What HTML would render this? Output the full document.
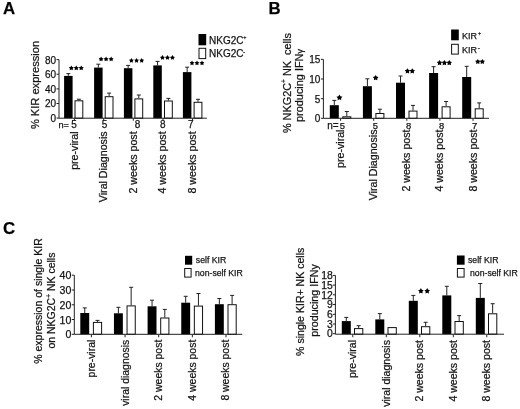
<!DOCTYPE html>
<html><head><meta charset="utf-8"><style>
html,body{margin:0;padding:0;background:#fff;}
body{width:520px;height:409px;overflow:hidden;}
svg{display:block;font-family:"Liberation Sans", sans-serif;filter:grayscale(1) blur(0.3px);}
text{stroke:#1a1a1a;stroke-width:0.25px;}
</style></head><body>
<svg width="520" height="409" viewBox="0 0 520 409">
<rect width="520" height="409" fill="#fff"/>
<text x="3" y="14.4" font-size="16.8" text-anchor="start" font-weight="bold" fill="#000">A</text>
<line x1="68.35" y1="73.6" x2="68.35" y2="75.9" stroke="#222" stroke-width="1"/>
<line x1="66.35" y1="73.6" x2="70.35" y2="73.6" stroke="#222" stroke-width="1"/>
<rect x="64.1" y="75.9" width="8.5" height="42.3" fill="#000"/>
<line x1="98.35" y1="64.2" x2="98.35" y2="67.6" stroke="#222" stroke-width="1"/>
<line x1="96.35" y1="64.2" x2="100.35" y2="64.2" stroke="#222" stroke-width="1"/>
<rect x="94.1" y="67.6" width="8.5" height="50.60000000000001" fill="#000"/>
<line x1="128.15" y1="65.4" x2="128.15" y2="68.2" stroke="#222" stroke-width="1"/>
<line x1="126.15" y1="65.4" x2="130.15" y2="65.4" stroke="#222" stroke-width="1"/>
<rect x="123.9" y="68.2" width="8.5" height="50.0" fill="#000"/>
<line x1="157.55" y1="61.4" x2="157.55" y2="65.4" stroke="#222" stroke-width="1"/>
<line x1="155.55" y1="61.4" x2="159.55" y2="61.4" stroke="#222" stroke-width="1"/>
<rect x="153.3" y="65.4" width="8.5" height="52.8" fill="#000"/>
<line x1="187.15" y1="67.2" x2="187.15" y2="72.1" stroke="#222" stroke-width="1"/>
<line x1="185.15" y1="67.2" x2="189.15" y2="67.2" stroke="#222" stroke-width="1"/>
<rect x="182.9" y="72.1" width="8.5" height="46.10000000000001" fill="#000"/>
<line x1="78.9" y1="99.2" x2="78.9" y2="100.3" stroke="#222" stroke-width="1"/>
<line x1="76.9" y1="99.2" x2="80.9" y2="99.2" stroke="#222" stroke-width="1"/>
<rect x="75.0" y="100.8" width="7.800000000000001" height="17.400000000000006" fill="#fff" stroke="#111" stroke-width="1"/>
<line x1="109.10000000000001" y1="93.1" x2="109.10000000000001" y2="96.2" stroke="#222" stroke-width="1"/>
<line x1="107.10000000000001" y1="93.1" x2="111.10000000000001" y2="93.1" stroke="#222" stroke-width="1"/>
<rect x="105.2" y="96.7" width="7.800000000000001" height="21.5" fill="#fff" stroke="#111" stroke-width="1"/>
<line x1="138.8" y1="95.0" x2="138.8" y2="98.4" stroke="#222" stroke-width="1"/>
<line x1="136.8" y1="95.0" x2="140.8" y2="95.0" stroke="#222" stroke-width="1"/>
<rect x="134.9" y="98.9" width="7.800000000000001" height="19.299999999999997" fill="#fff" stroke="#111" stroke-width="1"/>
<line x1="168.4" y1="98.4" x2="168.4" y2="100.5" stroke="#222" stroke-width="1"/>
<line x1="166.4" y1="98.4" x2="170.4" y2="98.4" stroke="#222" stroke-width="1"/>
<rect x="164.5" y="101.0" width="7.800000000000001" height="17.200000000000003" fill="#fff" stroke="#111" stroke-width="1"/>
<line x1="198.0" y1="99.3" x2="198.0" y2="101.8" stroke="#222" stroke-width="1"/>
<line x1="196.0" y1="99.3" x2="200.0" y2="99.3" stroke="#222" stroke-width="1"/>
<rect x="194.1" y="102.3" width="7.800000000000001" height="15.900000000000006" fill="#fff" stroke="#111" stroke-width="1"/>
<line x1="59" y1="118.2" x2="206.8" y2="118.2" stroke="#222" stroke-width="1"/>
<line x1="59" y1="59.6" x2="59" y2="118.2" stroke="#222" stroke-width="1"/>
<line x1="56.5" y1="59.6" x2="59" y2="59.6" stroke="#222" stroke-width="1"/>
<text x="56.0" y="63.5" font-size="10" text-anchor="end" fill="#111">80</text>
<line x1="56.5" y1="74.2" x2="59" y2="74.2" stroke="#222" stroke-width="1"/>
<text x="56.0" y="78.1" font-size="10" text-anchor="end" fill="#111">60</text>
<line x1="56.5" y1="88.9" x2="59" y2="88.9" stroke="#222" stroke-width="1"/>
<text x="56.0" y="92.8" font-size="10" text-anchor="end" fill="#111">40</text>
<line x1="56.5" y1="103.5" x2="59" y2="103.5" stroke="#222" stroke-width="1"/>
<text x="56.0" y="107.39999999999999" font-size="10" text-anchor="end" fill="#111">20</text>
<line x1="56.5" y1="118.1" x2="59" y2="118.1" stroke="#222" stroke-width="1"/>
<text x="56.0" y="121.99999999999999" font-size="10" text-anchor="end" fill="#111">0</text>
<line x1="74.4" y1="118.2" x2="74.4" y2="120.7" stroke="#222" stroke-width="1"/>
<line x1="103.7" y1="118.2" x2="103.7" y2="120.7" stroke="#222" stroke-width="1"/>
<line x1="133.3" y1="118.2" x2="133.3" y2="120.7" stroke="#222" stroke-width="1"/>
<line x1="163.0" y1="118.2" x2="163.0" y2="120.7" stroke="#222" stroke-width="1"/>
<line x1="192.6" y1="118.2" x2="192.6" y2="120.7" stroke="#222" stroke-width="1"/>
<polygon points="71.32,65.40 72.20,66.90 73.90,67.27 72.74,68.57 72.91,70.29 71.32,69.59 69.73,70.29 69.91,68.57 68.75,67.27 70.45,66.90" fill="#000"/>
<polygon points="76.27,65.40 77.15,66.90 78.85,67.27 77.69,68.57 77.87,70.29 76.27,69.59 74.68,70.29 74.86,68.57 73.70,67.27 75.40,66.90" fill="#000"/>
<polygon points="81.23,65.40 82.10,66.90 83.80,67.27 82.64,68.57 82.82,70.29 81.23,69.59 79.64,70.29 79.81,68.57 78.65,67.27 80.35,66.90" fill="#000"/>
<polygon points="101.06,56.60 101.90,58.04 103.52,58.39 102.42,59.63 102.58,61.28 101.06,60.61 99.54,61.28 99.71,59.63 98.60,58.39 100.22,58.04" fill="#000"/>
<polygon points="106.10,56.60 106.94,58.04 108.56,58.39 107.45,59.63 107.62,61.28 106.10,60.61 104.58,61.28 104.75,59.63 103.64,58.39 105.26,58.04" fill="#000"/>
<polygon points="111.14,56.60 111.98,58.04 113.60,58.39 112.49,59.63 112.66,61.28 111.14,60.61 109.62,61.28 109.78,59.63 108.68,58.39 110.30,58.04" fill="#000"/>
<polygon points="131.41,58.10 132.22,59.50 133.81,59.85 132.73,61.06 132.89,62.68 131.41,62.02 129.92,62.68 130.08,61.06 129.00,59.85 130.59,59.50" fill="#000"/>
<polygon points="136.55,58.10 137.37,59.50 138.96,59.85 137.87,61.06 138.04,62.68 136.55,62.02 135.06,62.68 135.23,61.06 134.14,59.85 135.73,59.50" fill="#000"/>
<polygon points="141.69,58.10 142.51,59.50 144.10,59.85 143.02,61.06 143.18,62.68 141.69,62.02 140.21,62.68 140.37,61.06 139.29,59.85 140.88,59.50" fill="#000"/>
<polygon points="162.46,55.10 163.30,56.54 164.92,56.89 163.82,58.13 163.98,59.78 162.46,59.11 160.94,59.78 161.11,58.13 160.00,56.89 161.62,56.54" fill="#000"/>
<polygon points="167.45,55.10 168.29,56.54 169.91,56.89 168.80,58.13 168.97,59.78 167.45,59.11 165.93,59.78 166.10,58.13 164.99,56.89 166.61,56.54" fill="#000"/>
<polygon points="172.44,55.10 173.28,56.54 174.90,56.89 173.79,58.13 173.96,59.78 172.44,59.11 170.92,59.78 171.08,58.13 169.98,56.89 171.60,56.54" fill="#000"/>
<polygon points="192.01,60.60 192.82,62.00 194.41,62.35 193.33,63.56 193.49,65.18 192.01,64.52 190.52,65.18 190.68,63.56 189.60,62.35 191.19,62.00" fill="#000"/>
<polygon points="197.00,60.60 197.82,62.00 199.41,62.35 198.32,63.56 198.49,65.18 197.00,64.52 195.51,65.18 195.68,63.56 194.59,62.35 196.18,62.00" fill="#000"/>
<polygon points="201.99,60.60 202.81,62.00 204.40,62.35 203.32,63.56 203.48,65.18 201.99,64.52 200.51,65.18 200.67,63.56 199.59,62.35 201.18,62.00" fill="#000"/>
<text x="58.5" y="127.8" font-size="9.2" text-anchor="start" fill="#111">n=</text>
<text x="74.1" y="127.8" font-size="10" text-anchor="middle" fill="#111">5</text>
<text x="104.6" y="127.8" font-size="10" text-anchor="middle" fill="#111">5</text>
<text x="137.5" y="127.8" font-size="10" text-anchor="middle" fill="#111">8</text>
<text x="162.9" y="127.8" font-size="10" text-anchor="middle" fill="#111">8</text>
<text x="190.9" y="127.8" font-size="10" text-anchor="middle" fill="#111">7</text>
<text x="77.7" y="131.4" font-size="10.65" text-anchor="end" fill="#111" transform="rotate(-90 77.7 131.4)">pre-viral</text>
<text x="107.0" y="131.4" font-size="10.65" text-anchor="end" fill="#111" transform="rotate(-90 107.0 131.4)">Viral Diagnosis</text>
<text x="136.60000000000002" y="131.4" font-size="10.65" text-anchor="end" fill="#111" transform="rotate(-90 136.60000000000002 131.4)">2 weeks post</text>
<text x="166.3" y="131.4" font-size="10.65" text-anchor="end" fill="#111" transform="rotate(-90 166.3 131.4)">4 weeks post</text>
<text x="195.9" y="131.4" font-size="10.65" text-anchor="end" fill="#111" transform="rotate(-90 195.9 131.4)">8 weeks post</text>
<text x="38.7" y="85.0" font-size="11.1" text-anchor="middle" fill="#111" transform="rotate(-90 38.7 85.0)">% KIR expression</text>
<rect x="198.5" y="34" width="7.7" height="11.3" fill="#000"/>
<rect x="199" y="48.3" width="6.7" height="10.3" fill="#fff" stroke="#111" stroke-width="1"/>
<text x="209.0" y="43.5" font-size="10" text-anchor="start" fill="#111">NKG2C<tspan font-size="5.5" dx="-0.1" dy="-4.6">+</tspan></text>
<text x="209.0" y="57.3" font-size="10" text-anchor="start" fill="#111">NKG2C<tspan font-size="6.5" dx="-0.5" dy="-3.3">-</tspan></text>
<text x="268.5" y="14.4" font-size="16.8" text-anchor="start" font-weight="bold" fill="#000">B</text>
<line x1="334.3" y1="100.4" x2="334.3" y2="105.2" stroke="#222" stroke-width="1"/>
<line x1="332.3" y1="100.4" x2="336.3" y2="100.4" stroke="#222" stroke-width="1"/>
<rect x="329.8" y="105.2" width="9" height="13.099999999999994" fill="#000"/>
<line x1="367.40000000000003" y1="78.8" x2="367.40000000000003" y2="86.2" stroke="#222" stroke-width="1"/>
<line x1="365.40000000000003" y1="78.8" x2="369.40000000000003" y2="78.8" stroke="#222" stroke-width="1"/>
<rect x="362.90000000000003" y="86.2" width="9" height="32.099999999999994" fill="#000"/>
<line x1="400.5" y1="76.0" x2="400.5" y2="82.7" stroke="#222" stroke-width="1"/>
<line x1="398.5" y1="76.0" x2="402.5" y2="76.0" stroke="#222" stroke-width="1"/>
<rect x="396.0" y="82.7" width="9" height="35.599999999999994" fill="#000"/>
<line x1="433.6" y1="66.7" x2="433.6" y2="73.0" stroke="#222" stroke-width="1"/>
<line x1="431.6" y1="66.7" x2="435.6" y2="66.7" stroke="#222" stroke-width="1"/>
<rect x="429.1" y="73.0" width="9" height="45.3" fill="#000"/>
<line x1="466.70000000000005" y1="66.3" x2="466.70000000000005" y2="77.0" stroke="#222" stroke-width="1"/>
<line x1="464.70000000000005" y1="66.3" x2="468.70000000000005" y2="66.3" stroke="#222" stroke-width="1"/>
<rect x="462.20000000000005" y="77.0" width="9" height="41.3" fill="#000"/>
<line x1="346.8" y1="111.5" x2="346.8" y2="116.3" stroke="#222" stroke-width="1"/>
<line x1="344.8" y1="111.5" x2="348.8" y2="111.5" stroke="#222" stroke-width="1"/>
<rect x="342.8" y="116.8" width="8" height="1.5" fill="#fff" stroke="#111" stroke-width="1"/>
<line x1="379.90000000000003" y1="109.2" x2="379.90000000000003" y2="113.0" stroke="#222" stroke-width="1"/>
<line x1="377.90000000000003" y1="109.2" x2="381.90000000000003" y2="109.2" stroke="#222" stroke-width="1"/>
<rect x="375.90000000000003" y="113.5" width="8" height="4.799999999999997" fill="#fff" stroke="#111" stroke-width="1"/>
<line x1="413.0" y1="105.4" x2="413.0" y2="110.6" stroke="#222" stroke-width="1"/>
<line x1="411.0" y1="105.4" x2="415.0" y2="105.4" stroke="#222" stroke-width="1"/>
<rect x="409.0" y="111.1" width="8" height="7.200000000000003" fill="#fff" stroke="#111" stroke-width="1"/>
<line x1="446.1" y1="101.5" x2="446.1" y2="106.3" stroke="#222" stroke-width="1"/>
<line x1="444.1" y1="101.5" x2="448.1" y2="101.5" stroke="#222" stroke-width="1"/>
<rect x="442.1" y="106.8" width="8" height="11.5" fill="#fff" stroke="#111" stroke-width="1"/>
<line x1="479.20000000000005" y1="102.9" x2="479.20000000000005" y2="108.3" stroke="#222" stroke-width="1"/>
<line x1="477.20000000000005" y1="102.9" x2="481.20000000000005" y2="102.9" stroke="#222" stroke-width="1"/>
<rect x="475.20000000000005" y="108.8" width="8" height="9.5" fill="#fff" stroke="#111" stroke-width="1"/>
<line x1="323.4" y1="118.3" x2="489" y2="118.3" stroke="#222" stroke-width="1"/>
<line x1="323.4" y1="59.4" x2="323.4" y2="118.3" stroke="#222" stroke-width="1"/>
<line x1="320.9" y1="59.4" x2="323.4" y2="59.4" stroke="#222" stroke-width="1"/>
<text x="320.4" y="63.4" font-size="10" text-anchor="end" fill="#111">15</text>
<line x1="320.9" y1="79.0" x2="323.4" y2="79.0" stroke="#222" stroke-width="1"/>
<text x="320.4" y="83.0" font-size="10" text-anchor="end" fill="#111">10</text>
<line x1="320.9" y1="98.7" x2="323.4" y2="98.7" stroke="#222" stroke-width="1"/>
<text x="320.4" y="102.7" font-size="10" text-anchor="end" fill="#111">5</text>
<line x1="320.9" y1="118.3" x2="323.4" y2="118.3" stroke="#222" stroke-width="1"/>
<text x="320.4" y="122.3" font-size="10" text-anchor="end" fill="#111">0</text>
<line x1="340.6" y1="118.3" x2="340.6" y2="120.8" stroke="#222" stroke-width="1"/>
<line x1="373.70000000000005" y1="118.3" x2="373.70000000000005" y2="120.8" stroke="#222" stroke-width="1"/>
<line x1="406.8" y1="118.3" x2="406.8" y2="120.8" stroke="#222" stroke-width="1"/>
<line x1="439.90000000000003" y1="118.3" x2="439.90000000000003" y2="120.8" stroke="#222" stroke-width="1"/>
<line x1="473.0" y1="118.3" x2="473.0" y2="120.8" stroke="#222" stroke-width="1"/>
<polygon points="339.45,94.50 340.46,96.23 342.42,96.65 341.08,98.15 341.28,100.14 339.45,99.33 337.62,100.14 337.82,98.15 336.48,96.65 338.44,96.23" fill="#000"/>
<polygon points="375.65,74.90 376.62,76.57 378.50,76.97 377.22,78.41 377.41,80.33 375.65,79.55 373.89,80.33 374.08,78.41 372.80,76.97 374.68,76.57" fill="#000"/>
<polygon points="407.44,68.20 408.37,69.80 410.18,70.19 408.95,71.57 409.14,73.41 407.44,72.67 405.75,73.41 405.93,71.57 404.70,70.19 406.51,69.80" fill="#000"/>
<polygon points="412.26,68.20 413.19,69.80 415.00,70.19 413.77,71.57 413.95,73.41 412.26,72.67 410.56,73.41 410.75,71.57 409.52,70.19 411.33,69.80" fill="#000"/>
<polygon points="439.54,60.00 440.47,61.60 442.28,61.99 441.05,63.37 441.24,65.21 439.54,64.47 437.85,65.21 438.03,63.37 436.80,61.99 438.61,61.60" fill="#000"/>
<polygon points="444.40,60.00 445.33,61.60 447.14,61.99 445.91,63.37 446.09,65.21 444.40,64.47 442.71,65.21 442.89,63.37 441.66,61.99 443.47,61.60" fill="#000"/>
<polygon points="449.26,60.00 450.19,61.60 452.00,61.99 450.77,63.37 450.95,65.21 449.26,64.47 447.56,65.21 447.75,63.37 446.52,61.99 448.33,61.60" fill="#000"/>
<polygon points="477.79,58.90 478.70,60.47 480.47,60.85 479.26,62.20 479.44,64.01 477.79,63.28 476.13,64.01 476.31,62.20 475.10,60.85 476.87,60.47" fill="#000"/>
<polygon points="482.31,58.90 483.23,60.47 485.00,60.85 483.79,62.20 483.97,64.01 482.31,63.28 480.66,64.01 480.84,62.20 479.63,60.85 481.40,60.47" fill="#000"/>
<text x="327.2" y="129.1" font-size="10" text-anchor="start" fill="#111">n=</text>
<text x="344.1" y="129.5" font-size="10.65" text-anchor="end" fill="#111" transform="rotate(-90 344.1 129.5)">pre-viral</text>
<text x="342.3" y="128.5" font-size="9.4" text-anchor="middle" fill="#111">5</text>
<text x="377.20000000000005" y="129.5" font-size="10.65" text-anchor="end" fill="#111" transform="rotate(-90 377.20000000000005 129.5)">Viral Diagnosis</text>
<text x="375.40000000000003" y="128.5" font-size="9.4" text-anchor="middle" fill="#111">5</text>
<text x="410.3" y="129.5" font-size="10.65" text-anchor="end" fill="#111" transform="rotate(-90 410.3 129.5)">2 weeks post</text>
<text x="408.5" y="128.5" font-size="9.4" text-anchor="middle" fill="#111">8</text>
<text x="443.40000000000003" y="129.5" font-size="10.65" text-anchor="end" fill="#111" transform="rotate(-90 443.40000000000003 129.5)">4 weeks post</text>
<text x="441.6" y="128.5" font-size="9.4" text-anchor="middle" fill="#111">8</text>
<text x="476.5" y="129.5" font-size="10.65" text-anchor="end" fill="#111" transform="rotate(-90 476.5 129.5)">8 weeks post</text>
<text x="474.7" y="128.5" font-size="9.4" text-anchor="middle" fill="#111">7</text>
<text x="290.6" y="83.1" font-size="10.9" text-anchor="middle" fill="#111" transform="rotate(-90 290.6 83.1)">% NKG2C<tspan font-size="6.5" dy="-4.5">+</tspan><tspan dy="4.5"> NK&#160; cells</tspan></text>
<text x="302.8" y="85.5" font-size="10.9" text-anchor="middle" fill="#111" transform="rotate(-90 302.8 85.5)">producing IFN<tspan font-size="9">γ</tspan></text>
<rect x="451.1" y="29.5" width="7.7" height="10.8" fill="#000"/>
<rect x="451.6" y="44.3" width="6.7" height="9.8" fill="#fff" stroke="#111" stroke-width="1"/>
<text x="462.0" y="38.9" font-size="9" text-anchor="start" fill="#111">KIR<tspan font-size="5.5" dx="1" dy="-3.8">+</tspan></text>
<text x="462.0" y="53.1" font-size="9" text-anchor="start" fill="#111">KIR<tspan font-size="6.5" dx="0.8" dy="-3.3">-</tspan></text>
<text x="3" y="233.7" font-size="16.8" text-anchor="start" font-weight="bold" fill="#000">C</text>
<line x1="84.75" y1="307.9" x2="84.75" y2="313.0" stroke="#222" stroke-width="1"/>
<line x1="82.75" y1="307.9" x2="86.75" y2="307.9" stroke="#222" stroke-width="1"/>
<rect x="80.3" y="313.0" width="8.9" height="21.30000000000001" fill="#000"/>
<line x1="118.39999999999999" y1="307.3" x2="118.39999999999999" y2="313.3" stroke="#222" stroke-width="1"/>
<line x1="116.39999999999999" y1="307.3" x2="120.39999999999999" y2="307.3" stroke="#222" stroke-width="1"/>
<rect x="113.94999999999999" y="313.3" width="8.9" height="21.0" fill="#000"/>
<line x1="152.04999999999998" y1="300.2" x2="152.04999999999998" y2="306.3" stroke="#222" stroke-width="1"/>
<line x1="150.04999999999998" y1="300.2" x2="154.04999999999998" y2="300.2" stroke="#222" stroke-width="1"/>
<rect x="147.6" y="306.3" width="8.9" height="28.0" fill="#000"/>
<line x1="185.7" y1="296.3" x2="185.7" y2="302.7" stroke="#222" stroke-width="1"/>
<line x1="183.7" y1="296.3" x2="187.7" y2="296.3" stroke="#222" stroke-width="1"/>
<rect x="181.25" y="302.7" width="8.9" height="31.600000000000023" fill="#000"/>
<line x1="219.34999999999997" y1="298.5" x2="219.34999999999997" y2="304.2" stroke="#222" stroke-width="1"/>
<line x1="217.34999999999997" y1="298.5" x2="221.34999999999997" y2="298.5" stroke="#222" stroke-width="1"/>
<rect x="214.89999999999998" y="304.2" width="8.9" height="30.100000000000023" fill="#000"/>
<line x1="97.5" y1="320.4" x2="97.5" y2="321.9" stroke="#222" stroke-width="1"/>
<line x1="95.5" y1="320.4" x2="99.5" y2="320.4" stroke="#222" stroke-width="1"/>
<rect x="93.4" y="322.4" width="8.2" height="11.900000000000034" fill="#fff" stroke="#111" stroke-width="1"/>
<line x1="131.15" y1="287.3" x2="131.15" y2="305.4" stroke="#222" stroke-width="1"/>
<line x1="129.15" y1="287.3" x2="133.15" y2="287.3" stroke="#222" stroke-width="1"/>
<rect x="127.05000000000001" y="305.9" width="8.2" height="28.400000000000034" fill="#fff" stroke="#111" stroke-width="1"/>
<line x1="164.79999999999998" y1="309.4" x2="164.79999999999998" y2="317.5" stroke="#222" stroke-width="1"/>
<line x1="162.79999999999998" y1="309.4" x2="166.79999999999998" y2="309.4" stroke="#222" stroke-width="1"/>
<rect x="160.7" y="318.0" width="8.2" height="16.30000000000001" fill="#fff" stroke="#111" stroke-width="1"/>
<line x1="198.45" y1="293.5" x2="198.45" y2="305.6" stroke="#222" stroke-width="1"/>
<line x1="196.45" y1="293.5" x2="200.45" y2="293.5" stroke="#222" stroke-width="1"/>
<rect x="194.35" y="306.1" width="8.2" height="28.19999999999999" fill="#fff" stroke="#111" stroke-width="1"/>
<line x1="232.1" y1="295.4" x2="232.1" y2="304.2" stroke="#222" stroke-width="1"/>
<line x1="230.1" y1="295.4" x2="234.1" y2="295.4" stroke="#222" stroke-width="1"/>
<rect x="228.0" y="304.7" width="8.2" height="29.600000000000023" fill="#fff" stroke="#111" stroke-width="1"/>
<line x1="74.3" y1="334.3" x2="242.3" y2="334.3" stroke="#222" stroke-width="1"/>
<line x1="74.3" y1="275.2" x2="74.3" y2="334.3" stroke="#222" stroke-width="1"/>
<line x1="71.8" y1="275.2" x2="74.3" y2="275.2" stroke="#222" stroke-width="1"/>
<text x="71.3" y="279.316" font-size="10.6" text-anchor="end" fill="#111">40</text>
<line x1="71.8" y1="290.0" x2="74.3" y2="290.0" stroke="#222" stroke-width="1"/>
<text x="71.3" y="294.116" font-size="10.6" text-anchor="end" fill="#111">30</text>
<line x1="71.8" y1="304.8" x2="74.3" y2="304.8" stroke="#222" stroke-width="1"/>
<text x="71.3" y="308.916" font-size="10.6" text-anchor="end" fill="#111">20</text>
<line x1="71.8" y1="319.5" x2="74.3" y2="319.5" stroke="#222" stroke-width="1"/>
<text x="71.3" y="323.616" font-size="10.6" text-anchor="end" fill="#111">10</text>
<line x1="71.8" y1="334.3" x2="74.3" y2="334.3" stroke="#222" stroke-width="1"/>
<text x="71.3" y="338.416" font-size="10.6" text-anchor="end" fill="#111">0</text>
<line x1="91.4" y1="334.3" x2="91.4" y2="337.3" stroke="#222" stroke-width="1"/>
<line x1="125.05000000000001" y1="334.3" x2="125.05000000000001" y2="337.3" stroke="#222" stroke-width="1"/>
<line x1="158.7" y1="334.3" x2="158.7" y2="337.3" stroke="#222" stroke-width="1"/>
<line x1="192.35" y1="334.3" x2="192.35" y2="337.3" stroke="#222" stroke-width="1"/>
<line x1="226.0" y1="334.3" x2="226.0" y2="337.3" stroke="#222" stroke-width="1"/>
<text x="94.9" y="339.7" font-size="10.45" text-anchor="end" fill="#111" transform="rotate(-90 94.9 339.7)">pre-viral</text>
<text x="128.55" y="339.7" font-size="10.45" text-anchor="end" fill="#111" transform="rotate(-90 128.55 339.7)">viral diagnosis</text>
<text x="162.2" y="339.7" font-size="10.45" text-anchor="end" fill="#111" transform="rotate(-90 162.2 339.7)">2 weeks post</text>
<text x="195.85" y="339.7" font-size="10.45" text-anchor="end" fill="#111" transform="rotate(-90 195.85 339.7)">4 weeks post</text>
<text x="229.5" y="339.7" font-size="10.45" text-anchor="end" fill="#111" transform="rotate(-90 229.5 339.7)">8 weeks post</text>
<text x="41.8" y="301" font-size="10.5" text-anchor="middle" fill="#111" transform="rotate(-90 41.8 301)">% expression of single KIR</text>
<text x="55.0" y="300.6" font-size="10.5" text-anchor="middle" fill="#111" transform="rotate(-90 55.0 300.6)">on NKG2C<tspan font-size="6.5" dy="-4">+</tspan><tspan dy="4"> NK cells</tspan></text>
<rect x="185" y="255.8" width="7.2" height="8.9" fill="#000"/>
<rect x="184.7" y="268.5" width="6.4" height="8.6" fill="#fff" stroke="#111" stroke-width="1"/>
<text x="195.8" y="263.2" font-size="8.7" text-anchor="start" fill="#111">self KIR</text>
<text x="195.0" y="276.0" font-size="8.7" text-anchor="start" fill="#111">non-self KIR</text>
<line x1="346.3" y1="317.4" x2="346.3" y2="321.1" stroke="#222" stroke-width="1"/>
<line x1="344.3" y1="317.4" x2="348.3" y2="317.4" stroke="#222" stroke-width="1"/>
<rect x="341.8" y="321.1" width="9" height="13.099999999999966" fill="#000"/>
<line x1="379.8" y1="313.6" x2="379.8" y2="319.4" stroke="#222" stroke-width="1"/>
<line x1="377.8" y1="313.6" x2="381.8" y2="313.6" stroke="#222" stroke-width="1"/>
<rect x="375.3" y="319.4" width="9" height="14.800000000000011" fill="#000"/>
<line x1="413.3" y1="295.4" x2="413.3" y2="300.8" stroke="#222" stroke-width="1"/>
<line x1="411.3" y1="295.4" x2="415.3" y2="295.4" stroke="#222" stroke-width="1"/>
<rect x="408.8" y="300.8" width="9" height="33.39999999999998" fill="#000"/>
<line x1="446.8" y1="286.3" x2="446.8" y2="295.4" stroke="#222" stroke-width="1"/>
<line x1="444.8" y1="286.3" x2="448.8" y2="286.3" stroke="#222" stroke-width="1"/>
<rect x="442.3" y="295.4" width="9" height="38.80000000000001" fill="#000"/>
<line x1="480.3" y1="283.5" x2="480.3" y2="297.9" stroke="#222" stroke-width="1"/>
<line x1="478.3" y1="283.5" x2="482.3" y2="283.5" stroke="#222" stroke-width="1"/>
<rect x="475.8" y="297.9" width="9" height="36.30000000000001" fill="#000"/>
<line x1="358.65" y1="325.7" x2="358.65" y2="328.1" stroke="#222" stroke-width="1"/>
<line x1="356.65" y1="325.7" x2="360.65" y2="325.7" stroke="#222" stroke-width="1"/>
<rect x="354.5" y="328.6" width="8.3" height="5.599999999999966" fill="#fff" stroke="#111" stroke-width="1"/>
<rect x="388.0" y="327.6" width="8.3" height="6.599999999999966" fill="#fff" stroke="#111" stroke-width="1"/>
<line x1="425.65" y1="322.3" x2="425.65" y2="326.2" stroke="#222" stroke-width="1"/>
<line x1="423.65" y1="322.3" x2="427.65" y2="322.3" stroke="#222" stroke-width="1"/>
<rect x="421.5" y="326.7" width="8.3" height="7.5" fill="#fff" stroke="#111" stroke-width="1"/>
<line x1="459.15" y1="315.6" x2="459.15" y2="321.0" stroke="#222" stroke-width="1"/>
<line x1="457.15" y1="315.6" x2="461.15" y2="315.6" stroke="#222" stroke-width="1"/>
<rect x="455.0" y="321.5" width="8.3" height="12.699999999999989" fill="#fff" stroke="#111" stroke-width="1"/>
<line x1="492.65" y1="303.7" x2="492.65" y2="313.3" stroke="#222" stroke-width="1"/>
<line x1="490.65" y1="303.7" x2="494.65" y2="303.7" stroke="#222" stroke-width="1"/>
<rect x="488.5" y="313.8" width="8.3" height="20.399999999999977" fill="#fff" stroke="#111" stroke-width="1"/>
<line x1="335.4" y1="334.2" x2="504" y2="334.2" stroke="#222" stroke-width="1"/>
<line x1="335.4" y1="275.4" x2="335.4" y2="334.2" stroke="#222" stroke-width="1"/>
<line x1="332.9" y1="275.4" x2="335.4" y2="275.4" stroke="#222" stroke-width="1"/>
<text x="332.7" y="279.144" font-size="10.4" text-anchor="end" fill="#111">18</text>
<line x1="332.9" y1="285.1" x2="335.4" y2="285.1" stroke="#222" stroke-width="1"/>
<text x="332.7" y="288.84400000000005" font-size="10.4" text-anchor="end" fill="#111">15</text>
<line x1="332.9" y1="294.8" x2="335.4" y2="294.8" stroke="#222" stroke-width="1"/>
<text x="332.7" y="298.544" font-size="10.4" text-anchor="end" fill="#111">12</text>
<line x1="332.9" y1="304.5" x2="335.4" y2="304.5" stroke="#222" stroke-width="1"/>
<text x="332.7" y="308.244" font-size="10.4" text-anchor="end" fill="#111">9</text>
<line x1="332.9" y1="314.3" x2="335.4" y2="314.3" stroke="#222" stroke-width="1"/>
<text x="332.7" y="318.044" font-size="10.4" text-anchor="end" fill="#111">6</text>
<line x1="332.9" y1="324.0" x2="335.4" y2="324.0" stroke="#222" stroke-width="1"/>
<text x="332.7" y="327.744" font-size="10.4" text-anchor="end" fill="#111">3</text>
<line x1="332.9" y1="333.7" x2="335.4" y2="333.7" stroke="#222" stroke-width="1"/>
<text x="332.7" y="337.44399999999996" font-size="10.4" text-anchor="end" fill="#111">0</text>
<line x1="352.8" y1="334.2" x2="352.8" y2="337.2" stroke="#222" stroke-width="1"/>
<line x1="386.3" y1="334.2" x2="386.3" y2="337.2" stroke="#222" stroke-width="1"/>
<line x1="419.8" y1="334.2" x2="419.8" y2="337.2" stroke="#222" stroke-width="1"/>
<line x1="453.3" y1="334.2" x2="453.3" y2="337.2" stroke="#222" stroke-width="1"/>
<line x1="486.8" y1="334.2" x2="486.8" y2="337.2" stroke="#222" stroke-width="1"/>
<polygon points="420.90,288.10 421.85,289.73 423.69,290.13 422.44,291.54 422.63,293.42 420.90,292.66 419.17,293.42 419.36,291.54 418.10,290.13 419.95,289.73" fill="#000"/>
<polygon points="427.20,288.10 428.15,289.73 430.00,290.13 428.74,291.54 428.93,293.42 427.20,292.66 425.47,293.42 425.66,291.54 424.41,290.13 426.25,289.73" fill="#000"/>
<text x="356.40000000000003" y="340.0" font-size="10.55" text-anchor="end" fill="#111" transform="rotate(-90 356.40000000000003 340.0)">pre-viral</text>
<text x="389.90000000000003" y="340.0" font-size="10.55" text-anchor="end" fill="#111" transform="rotate(-90 389.90000000000003 340.0)">viral diagnosis</text>
<text x="423.40000000000003" y="340.0" font-size="10.55" text-anchor="end" fill="#111" transform="rotate(-90 423.40000000000003 340.0)">2 weeks post</text>
<text x="456.90000000000003" y="340.0" font-size="10.55" text-anchor="end" fill="#111" transform="rotate(-90 456.90000000000003 340.0)">4 weeks post</text>
<text x="490.40000000000003" y="340.0" font-size="10.55" text-anchor="end" fill="#111" transform="rotate(-90 490.40000000000003 340.0)">8 weeks post</text>
<text x="304.3" y="301.8" font-size="10.55" text-anchor="middle" fill="#111" transform="rotate(-90 304.3 301.8)">% single KIR+ NK cells</text>
<text x="318.2" y="300.5" font-size="10.7" text-anchor="middle" fill="#111" transform="rotate(-90 318.2 300.5)">producing IFNy</text>
<rect x="456.9" y="255.5" width="7.7" height="9.2" fill="#000"/>
<rect x="457.4" y="268.5" width="6.7" height="8.6" fill="#fff" stroke="#111" stroke-width="1"/>
<text x="468.0" y="262.7" font-size="8.7" text-anchor="start" fill="#111">self KIR</text>
<text x="470.0" y="275.8" font-size="8.7" text-anchor="start" fill="#111">non-self KIR</text>
</svg>
</body></html>
